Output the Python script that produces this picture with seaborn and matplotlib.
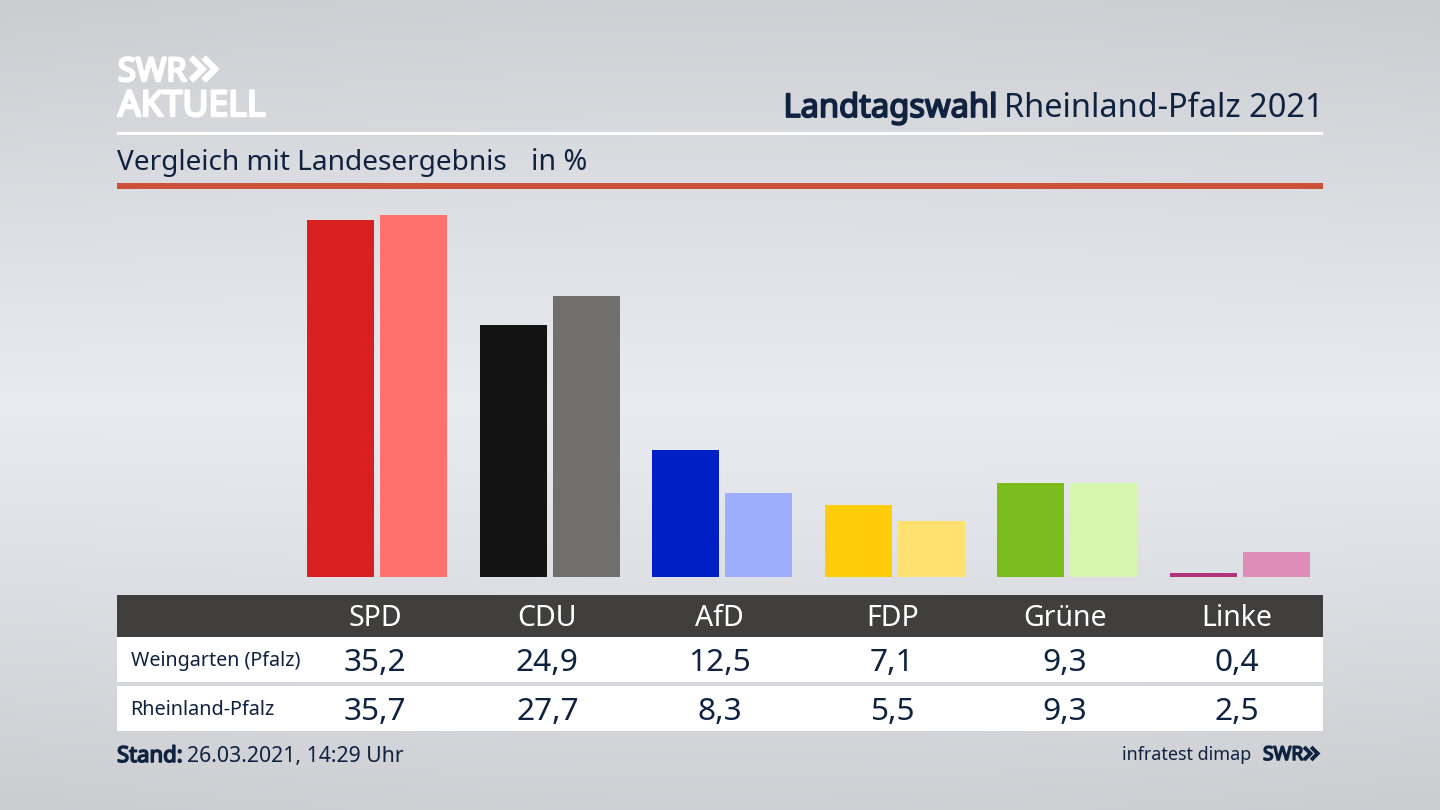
import numpy as np
import pandas as pd
import matplotlib.pyplot as plt
import matplotlib.patheffects as pe
import seaborn as sns
from matplotlib.patches import Rectangle

parties = ['SPD', 'CDU', 'AfD', 'FDP', 'Grüne', 'Linke']
weingarten = [35.2, 24.9, 12.5, 7.1, 9.3, 0.4]
rheinland = [35.7, 27.7, 8.3, 5.5, 9.3, 2.5]
regions = ['Weingarten (Pfalz)', 'Rheinland-Pfalz']
dark_colors = ['#d7201f', '#131313', '#001fc4', '#ffcc0a', '#79bc1b', '#b0347c']
light_colors = ['#ff716c', '#706f6d', '#9fadff', '#ffe170', '#d6f6ae', '#e08cb9']

NAVY = '#0f2240'
FONT = 'Noto Sans'

sns.set_theme(style='white')
plt.rcParams['font.family'] = [FONT, 'DejaVu Sans']

df = pd.DataFrame({
    'Party': parties * 2,
    'Region': [regions[0]] * 6 + [regions[1]] * 6,
    'Value': weingarten + rheinland,
})

fig = plt.figure(figsize=(14.4, 8.1), dpi=100)

# background gradient, lightest a bit below the middle
bg_ax = fig.add_axes([0, 0, 1, 1], zorder=0)
yy = np.linspace(0, 1, 400)[:, None]
xx = np.linspace(-1, 1, 400)[None, :]
shade = np.abs(yy - 0.5) / 0.5
grad = 0.925 - 0.105 * shade ** 1.1 - 0.015 * (xx ** 2) * shade
bg = np.dstack([grad * 0.985, grad * 0.995, grad * 1.015]).clip(0, 1)
bg_ax.imshow(bg, aspect='auto', extent=[0, 1440, 810, 0])
bg_ax.axis('off')

# bars
ax = fig.add_axes([117 / 1440, (810 - 577) / 810, 1206 / 1440, 388 / 810], zorder=1)
sns.barplot(data=df, x='Party', y='Value', hue='Region', order=parties, hue_order=regions,
            width=0.846, gap=0.082, legend=False, saturation=1, ax=ax)
for container, colors in zip(ax.containers, [dark_colors, light_colors]):
    for bar, color in zip(container, colors):
        bar.set_facecolor(color)
        bar.set_edgecolor('none')
ax.set_xlim(-1.508, 5.483)
ax.set_ylim(0, 38.3)
ax.axis('off')

# everything else in pixel coordinates
top = fig.add_axes([0, 0, 1, 1], zorder=2)
top.set_xlim(0, 1440)
top.set_ylim(810, 0)
top.axis('off')

top.add_patch(Rectangle((117, 132), 1206, 3, color='white', lw=0))
top.add_patch(Rectangle((117, 183), 1206, 6, color='#cb5238', lw=0))
top.add_patch(Rectangle((117, 595), 1206, 42, color='#403f3d', lw=0))
top.add_patch(Rectangle((117, 637), 1206, 45, color='white', lw=0))
top.add_patch(Rectangle((117, 686), 1206, 45, color='white', lw=0))


def chevrons(x, y, h, color, lw):
    for dx in (0, h * 0.55):
        top.plot([x + dx, x + dx + h * 0.5, x + dx], [y - h / 2, y, y + h / 2],
                 color=color, lw=lw, solid_joinstyle='miter', solid_capstyle='butt')


def heavy(color, width):
    # the installed Noto Sans has no bold cut, so thicken the outline
    return [pe.withStroke(linewidth=width, foreground=color)]


# logo
top.text(118, 81, 'SWR', color='white', fontsize=23.5, ha='left', va='baseline',
         path_effects=heavy('white', 1.8))
chevrons(191, 69, 23, 'white', 4.6)
top.text(118, 116, 'AKTUELL', color='white', fontsize=25.6, ha='left', va='baseline',
         path_effects=heavy('white', 1.8))

# headline
top.text(1324, 117, 'Rheinland-Pfalz 2021', color=NAVY, fontsize=23.4, ha='right', va='baseline')
top.text(997, 117, 'Landtagswahl', color=NAVY, fontsize=23.5, ha='right', va='baseline',
         path_effects=heavy(NAVY, 1.3))
top.text(117, 170, 'Vergleich mit Landesergebnis', color=NAVY, fontsize=20.2, ha='left', va='baseline')
top.text(531, 170, 'in %', color=NAVY, fontsize=20.6, ha='left', va='baseline')

# table
for i, party in enumerate(parties):
    cx = 375 + i * 172.4
    top.text(cx, 626, party, color='white', fontsize=20.5, ha='center', va='baseline')
    top.text(cx, 671, f'{weingarten[i]:.1f}'.replace('.', ','), color=NAVY, fontsize=22.8, ha='center', va='baseline')
    top.text(cx, 720, f'{rheinland[i]:.1f}'.replace('.', ','), color=NAVY, fontsize=22.8, ha='center', va='baseline')
top.text(131, 666, regions[0], color=NAVY, fontsize=14.2, ha='left', va='baseline')
top.text(130, 715, regions[1], color=NAVY, fontsize=14.3, ha='left', va='baseline')

# footer
top.text(117, 762, 'Stand:', color=NAVY, fontsize=15.9, ha='left', va='baseline',
         path_effects=heavy(NAVY, 1.1))
top.text(187, 762, '26.03.2021, 14:29 Uhr', color=NAVY, fontsize=15.3, ha='left', va='baseline')
top.text(1251, 760, 'infratest dimap', color=NAVY, fontsize=12.9, ha='right', va='baseline')
top.text(1263, 760, 'SWR', color=NAVY, fontsize=13.8, ha='left', va='baseline',
         path_effects=heavy(NAVY, 1.1))
chevrons(1304, 753.5, 13, NAVY, 2.8)

fig.savefig('out.png', dpi=100)
